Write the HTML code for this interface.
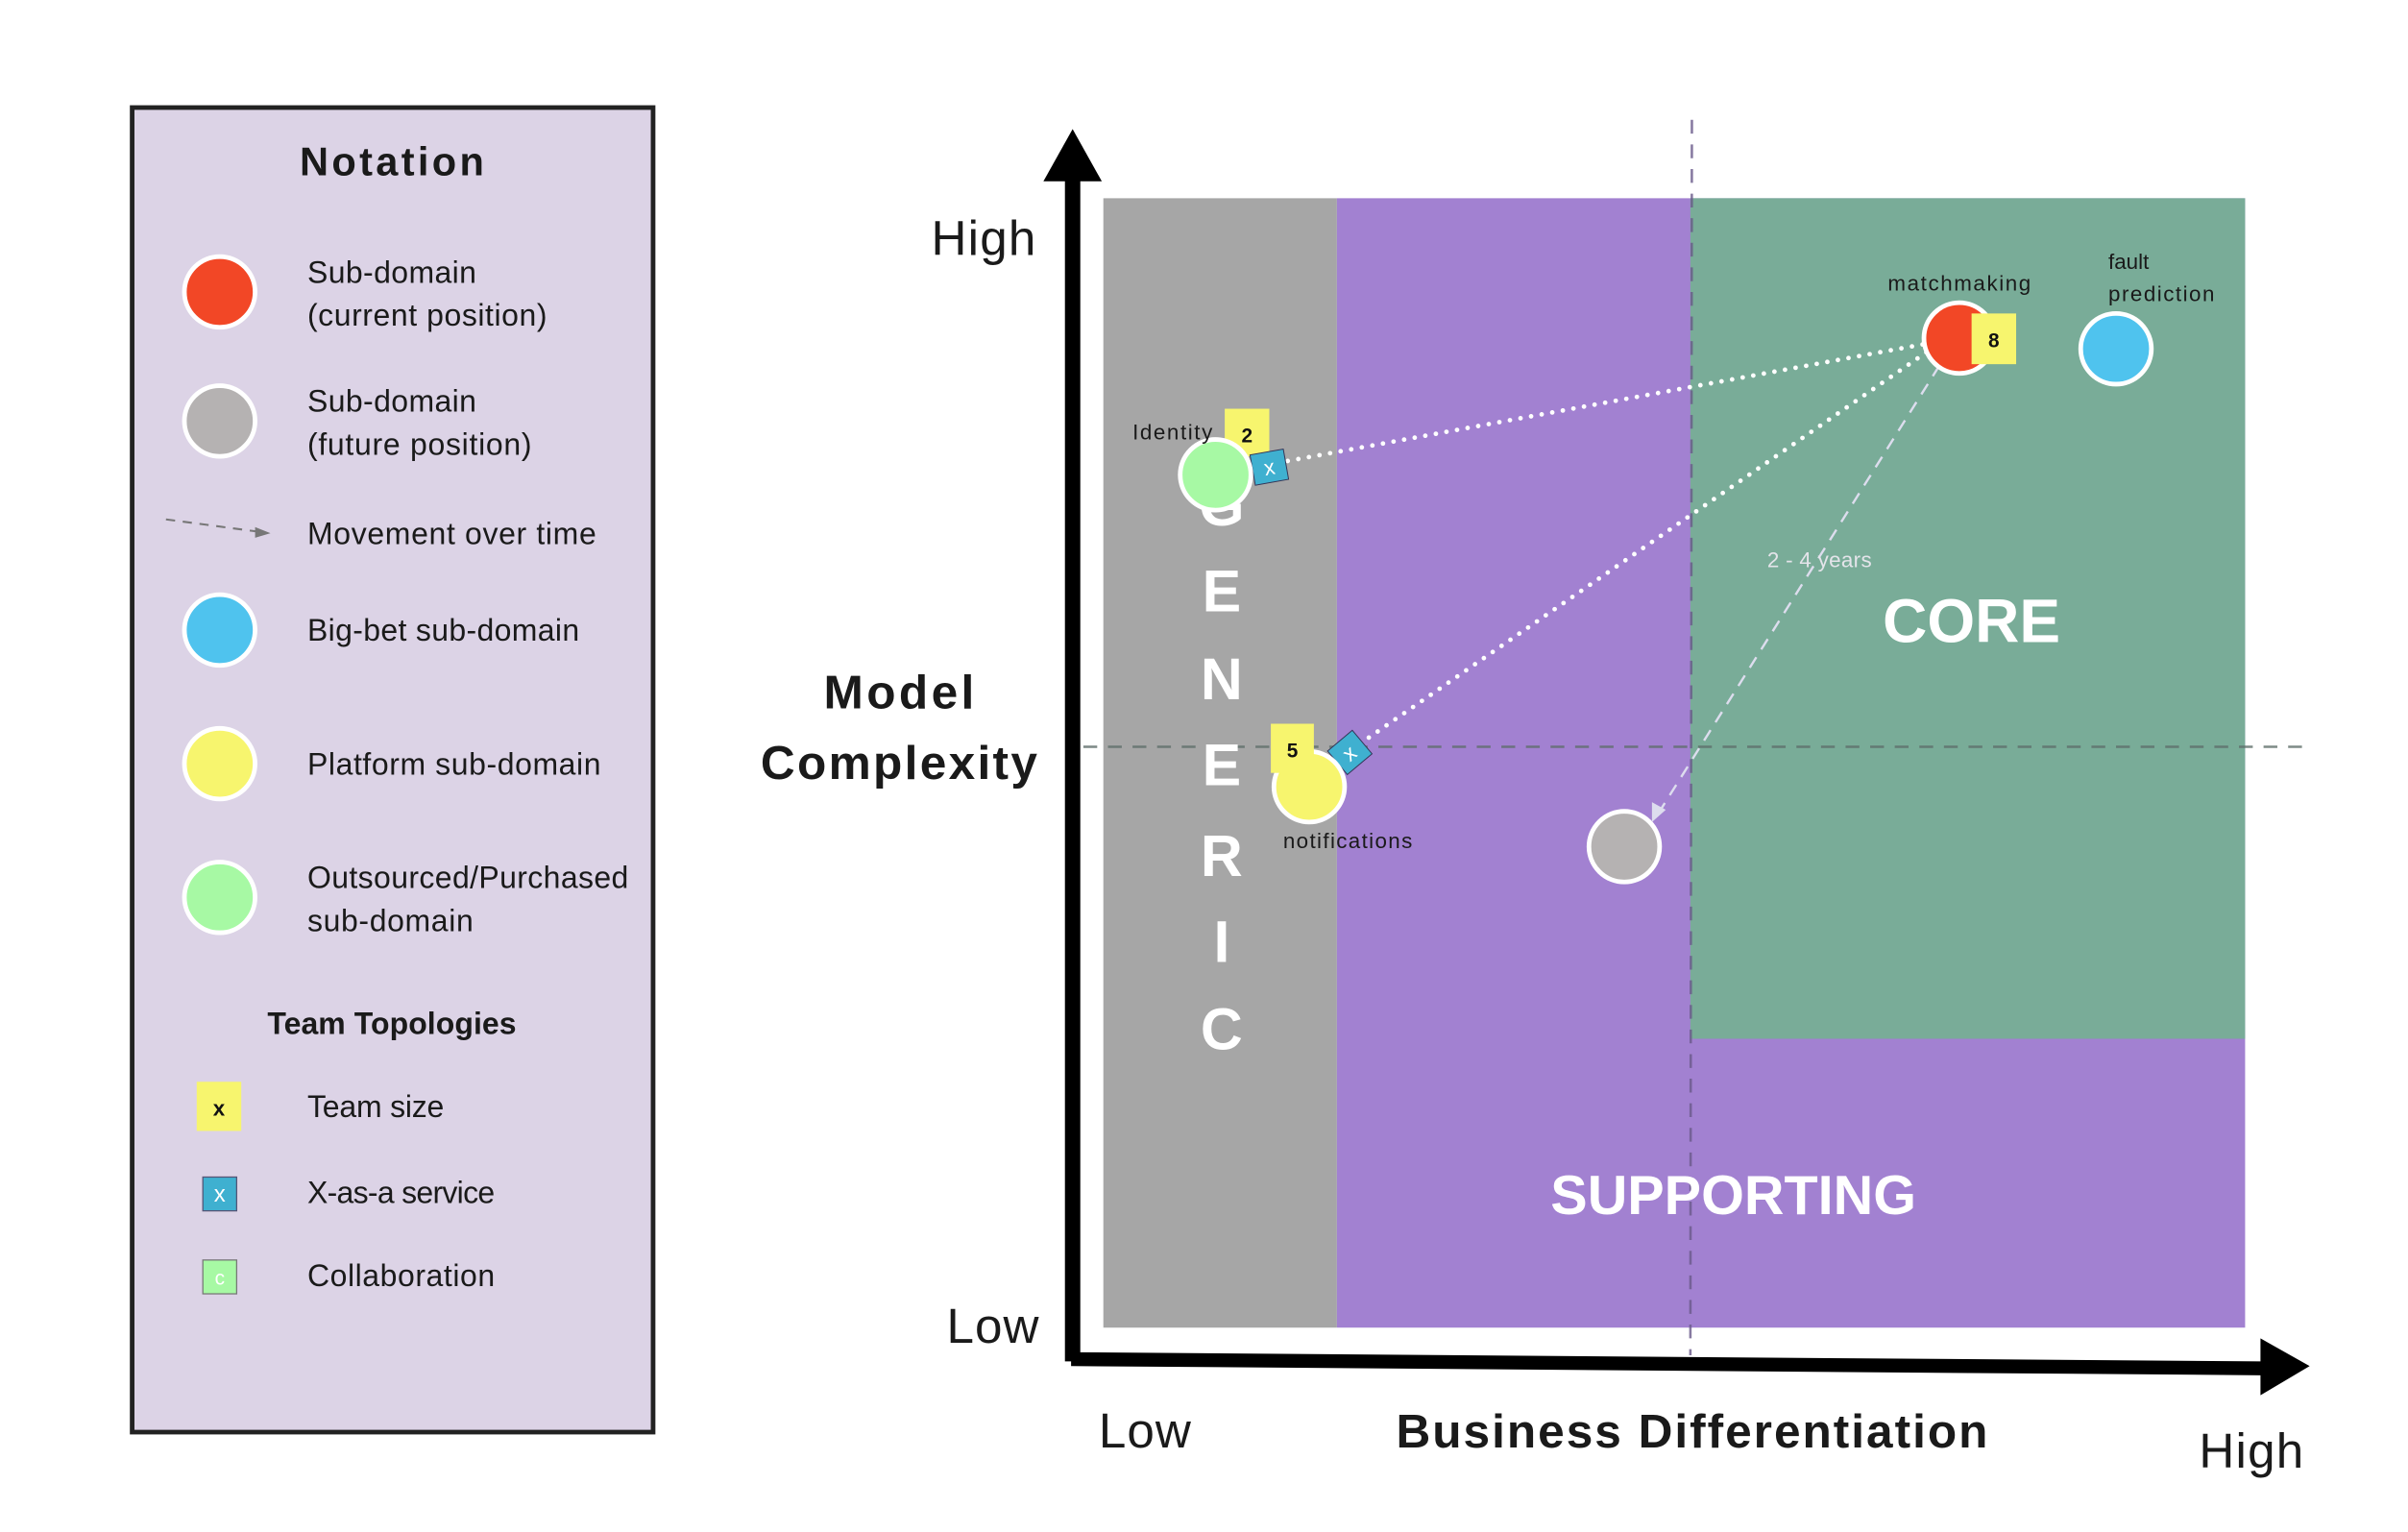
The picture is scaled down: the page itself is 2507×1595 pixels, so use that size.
<!DOCTYPE html>
<html><head><meta charset="utf-8"><style>
html,body{margin:0;padding:0;background:#fff;}
svg{display:block;}
text{font-family:"Liberation Sans","DejaVu Sans",sans-serif;}
</style></head><body>
<svg width="2507" height="1595" viewBox="0 0 1567 997" preserveAspectRatio="none" xmlns="http://www.w3.org/2000/svg">
<!-- Legend -->
<rect x="86" y="70" width="339" height="862" fill="#dcd3e6" stroke="#222" stroke-width="3"/>
<text x="255" y="114" font-size="26" font-weight="bold" text-anchor="middle" fill="#1a1a1a" textLength="120">Notation</text>
<g stroke="#fff" stroke-width="3">
<circle cx="143" cy="190" r="23" fill="#f24726"/>
<circle cx="143" cy="274" r="23" fill="#b5b2b2"/>
<circle cx="143" cy="410" r="23" fill="#4fc3ee"/>
<circle cx="143" cy="497" r="23" fill="#f7f56e"/>
<circle cx="143" cy="584" r="23" fill="#a7f9a4"/>
</g>
<g font-size="20" fill="#1a1a1a">
<text x="200" y="184" textLength="110">Sub-domain</text><text x="200" y="212" textLength="156">(current position)</text>
<text x="200" y="268" textLength="110">Sub-domain</text><text x="200" y="296" textLength="146">(future position)</text>
<text x="200" y="354" textLength="188">Movement over time</text>
<text x="200" y="417" textLength="177">Big-bet sub-domain</text>
<text x="200" y="504" textLength="191">Platform sub-domain</text>
<text x="200" y="578" textLength="209">Outsourced/Purchased</text><text x="200" y="606" textLength="108">sub-domain</text>
<text x="255" y="673" font-weight="bold" text-anchor="middle" textLength="162">Team Topologies</text>
<text x="200" y="727" textLength="89">Team size</text>
<text x="200" y="783" textLength="122">X-as-a service</text>
<text x="200" y="837" textLength="122">Collaboration</text>
</g>
<line x1="108" y1="338" x2="168" y2="346" stroke="#777" stroke-width="1.3" stroke-dasharray="6,5"/>
<polygon points="176,347 166,343 166,350" fill="#777"/>
<rect x="128" y="704" width="29" height="32" fill="#f7f56e"/>
<text x="142.5" y="726" font-size="14" font-weight="bold" text-anchor="middle" fill="#111">x</text>
<rect x="132" y="766" width="22" height="22" fill="#3fb0d0" stroke="#557" stroke-width="0.8"/>
<text x="143" y="782" font-size="15" text-anchor="middle" fill="#fff">x</text>
<rect x="132" y="820" width="22" height="22" fill="#a7f9a4" stroke="#777" stroke-width="0.8"/>
<text x="143" y="836" font-size="13" text-anchor="middle" fill="#fff">c</text>

<!-- chart areas -->
<rect x="718" y="129" width="152" height="735" fill="#a6a6a6"/>
<rect x="870" y="129" width="591" height="735" fill="#a281d1"/>
<rect x="1100" y="129" width="361" height="547" fill="#79ac98"/>

<!-- dashed guides -->
<line x1="1101" y1="78" x2="1100" y2="882" stroke="#6a5a8a" stroke-width="1.6" stroke-dasharray="9,7" opacity="0.8"/>
<line x1="705" y1="486" x2="1505" y2="486" stroke="#5e6e6a" stroke-width="1.6" stroke-dasharray="9,7" opacity="0.8"/>

<!-- axes -->
<line x1="698" y1="110" x2="698" y2="886" stroke="#000" stroke-width="10"/>
<polygon points="698,84 679,118 717,118" fill="#000"/>
<polygon points="697,880 1472,886 1472,895 697,889" fill="#000"/>
<polygon points="1503,889 1471,871 1471,908" fill="#000"/>

<!-- axis labels -->
<g fill="#1a1a1a">
<text x="640" y="166" font-size="32" text-anchor="middle" textLength="68">High</text>
<text x="646" y="874" font-size="32" text-anchor="middle" textLength="60">Low</text>
<text x="745" y="942" font-size="32" text-anchor="middle" textLength="60">Low</text>
<text x="1465" y="955" font-size="32" text-anchor="middle" textLength="68">High</text>
<text x="585" y="461" font-size="31" font-weight="bold" text-anchor="middle" textLength="98">Model</text>
<text x="585" y="507" font-size="31" font-weight="bold" text-anchor="middle" textLength="180">Complexity</text>
<text x="1101" y="942" font-size="31" font-weight="bold" text-anchor="middle" textLength="385">Business Differentiation</text>
</g>

<!-- region labels -->
<g fill="#fff" font-weight="bold" text-anchor="middle">
<g font-size="38">
<text x="795" y="342">G</text>
<text x="795" y="398">E</text>
<text x="795" y="455">N</text>
<text x="795" y="511">E</text>
<text x="795" y="570">R</text>
<text x="795" y="626">I</text>
<text x="795" y="683">C</text>
</g>
<text x="1283" y="418" font-size="40">CORE</text>
<text x="1128" y="790" font-size="36">SUPPORTING</text>
</g>

<!-- connectors -->
<g stroke="#fff" stroke-width="3" stroke-linecap="round" stroke-dasharray="0,7" fill="none">
<line x1="838" y1="300" x2="1252" y2="224"/>
<line x1="885" y1="484" x2="1254" y2="229"/>
</g>
<line x1="1262" y1="238" x2="1080" y2="528" stroke="#dde" stroke-width="1.5" stroke-dasharray="8,6"/>
<polygon points="1075,535 1075,522 1084,527" fill="#dde"/>
<text x="1184" y="369" font-size="14" fill="#e4e4ea" text-anchor="middle" textLength="68">2 - 4 years</text>

<!-- Identity -->
<rect x="797" y="266" width="29" height="31" fill="#f7f56e"/>
<text x="811.5" y="288" font-size="13" font-weight="bold" text-anchor="middle" fill="#111">2</text>
<g transform="rotate(-10 826 304)"><rect x="815" y="294" width="22" height="20" fill="#3fb0d0" stroke="#335" stroke-width="0.6"/>
<text x="826" y="309" font-size="14" text-anchor="middle" fill="#fff">x</text></g>
<circle cx="791" cy="309" r="23" fill="#a7f9a4" stroke="#fff" stroke-width="3"/>
<text x="737" y="286" font-size="14" fill="#1a1a1a" textLength="52">Identity</text>

<!-- notifications -->
<g transform="rotate(-40 878 490)"><rect x="868" y="480" width="21" height="20" fill="#3fb0d0" stroke="#335" stroke-width="0.6"/>
<text x="878" y="495" font-size="14" text-anchor="middle" fill="#fff">x</text></g>
<circle cx="852" cy="512" r="23" fill="#f7f56e" stroke="#fff" stroke-width="3"/>
<rect x="827" y="471" width="28" height="32" fill="#f7f56e"/>
<text x="841" y="493" font-size="13" font-weight="bold" text-anchor="middle" fill="#111">5</text>
<text x="835" y="552" font-size="14" fill="#1a1a1a" textLength="84">notifications</text>

<!-- matchmaking -->
<circle cx="1275" cy="220" r="23" fill="#f24726" stroke="#fff" stroke-width="3"/>
<rect x="1283" y="204" width="29" height="33" fill="#f7f56e"/>
<text x="1297.5" y="226" font-size="13" font-weight="bold" text-anchor="middle" fill="#111">8</text>
<text x="1275" y="189" font-size="14" text-anchor="middle" fill="#1a1a1a" textLength="93">matchmaking</text>

<!-- fault prediction -->
<circle cx="1377" cy="227" r="23" fill="#4fc3ee" stroke="#fff" stroke-width="3"/>
<text x="1372" y="175" font-size="14" fill="#1a1a1a">fault</text>
<text x="1372" y="196" font-size="14" fill="#1a1a1a" textLength="69">prediction</text>

<!-- future position -->
<circle cx="1057" cy="551" r="23" fill="#b5b2b2" stroke="#fff" stroke-width="3"/>
</svg>
</body></html>
